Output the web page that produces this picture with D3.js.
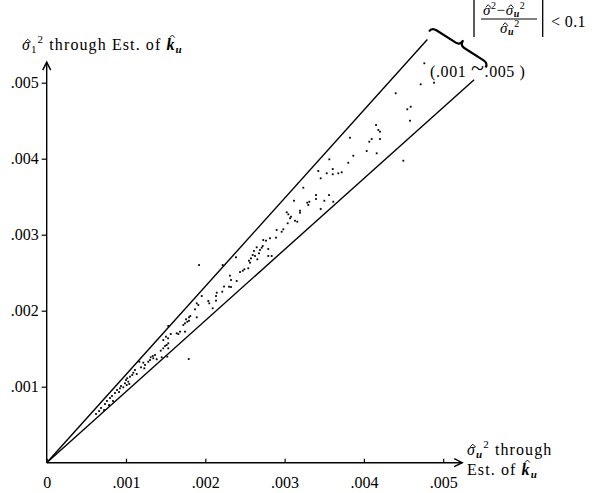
<!DOCTYPE html>
<html>
<head>
<meta charset="utf-8">
<script src="https://cdn.jsdelivr.net/npm/d3@7"></script>
<style>
  html, body { margin: 0; padding: 0; background: #fff; }
  svg { display: block; }
  text { font-family: "Liberation Serif", "Times New Roman", serif; fill: #000; }
</style>
</head>
<body>
<svg id="chart" width="600" height="493"></svg>
<script>
// ---- data (units of 0.001) ----
const xTickValues = [0, 1, 2, 3, 4, 5];
const xTickLabels = ["0", ".001", ".002", ".003", ".004", ".005"];
const yTickValues = [1, 2, 3, 4, 5];
const yTickLabels = [".001", ".002", ".003", ".004", ".005"];

// bounds of the |(s^2 - su^2)/su^2| < 0.1 cone as drawn: slope and end x
const coneSlopes = [1.16, 0.935];
const coneEndX = [4.80, 5.39];

// sigma_u^2 (x) and sigma_1^2 (y) estimates
const sigmaU = [
 0.622,0.660,0.685,0.723,0.735,0.760,0.786,0.798,0.823,0.836,0.861,0.887,0.912,0.937,
 0.924,0.966,0.987,1.009,1.042,1.029,1.000,1.016,1.050,1.079,1.135,1.092,1.113,1.189,1.231,1.240,
 1.218,1.168,1.281,1.303,1.344,1.311,1.337,1.366,1.387,1.450,1.521,1.791,1.438,1.470,1.533,1.492,
 1.513,1.533,1.470,1.530,1.504,1.564,1.639,1.660,1.681,1.744,1.533,1.723,1.744,1.773,1.794,1.757,
 1.811,1.794,1.892,1.870,2.093,1.912,1.892,2.038,2.050,2.135,1.955,2.135,2.144,2.236,2.299,2.324,
 3.564,3.866,4.035,4.161,3.803,3.425,3.531,3.607,3.607,3.677,3.720,3.455,3.236,3.396,3.396,3.560,
 3.501,3.614,3.119,3.286,3.312,3.299,3.455,3.026,3.047,3.081,3.068,3.194,3.194,3.131,3.160,3.039,
 2.984,2.963,2.900,2.892,2.816,2.765,2.731,2.724,2.711,2.690,2.677,2.648,2.614,2.627,2.598,2.576,
 2.794,2.794,2.837,2.551,2.564,2.656,2.542,2.492,2.472,2.438,2.387,2.219,1.921,2.311,2.324,2.396,
 2.214,
 4.762,4.716,4.884,4.401,4.590,4.547,4.581,4.153,4.182,4.203,3.825,4.098,4.203,4.068,4.497
];
const sigma1 = [
 0.641,0.680,0.720,0.693,0.772,0.812,0.759,0.851,0.878,0.812,0.917,0.957,0.930,1.009,
 0.979,0.992,1.045,1.022,1.036,1.066,1.088,1.111,1.132,1.154,1.167,1.184,1.220,1.255,1.242,1.286,
 1.316,1.329,1.329,1.351,1.374,1.387,1.404,1.417,1.361,1.387,1.395,1.364,1.474,1.505,1.505,1.536,
 1.549,1.571,1.614,1.637,1.658,1.693,1.703,1.693,1.724,1.724,1.800,1.812,1.834,1.855,1.868,1.887,
 1.930,1.913,1.913,2.018,2.032,2.075,2.097,2.128,2.097,2.132,2.193,2.193,2.237,2.318,2.316,2.312,
 3.992,4.039,4.101,4.071,3.947,3.838,3.808,3.864,3.795,3.808,3.821,3.742,3.618,3.522,3.470,3.522,
 3.447,3.434,3.447,3.421,3.434,3.391,3.338,3.295,3.268,3.237,3.216,3.316,3.289,3.184,3.171,3.150,
 3.071,3.039,3.062,2.961,2.953,2.921,2.930,2.851,2.829,2.799,2.755,2.834,2.786,2.720,2.733,2.689,
 2.812,2.720,2.720,2.658,2.632,2.676,2.558,2.545,2.526,2.509,2.703,2.601,2.601,2.461,2.404,2.391,
 2.250,
 5.255,4.979,5.000,4.861,4.684,4.650,4.500,4.443,4.378,4.355,4.276,4.259,4.259,4.224,3.974
];

// ---- drawing ----
const svg = d3.select("#chart");
const x = d3.scaleLinear().domain([0, 5]).range([46.7, 443.2]);
const y = d3.scaleLinear().domain([0, 5]).range([462.7, 82.7]);
const xMax = 5.24, yMax = 5.27;

// rich text helper: parts {t, it, b, fs, dy, hat}
function rich(parent, x0, y0, fs, parts, ls) {
  const t = parent.append("text").attr("x", x0).attr("y", y0).attr("font-size", fs);
  if (ls) t.attr("letter-spacing", ls);
  const hats = [];
  let idx = 0, base = y0;
  parts.forEach(p => {
    const sp = t.append("tspan").text(p.t);
    if (p.it) sp.attr("font-style", "italic");
    if (p.b) sp.attr("font-weight", "bold");
    if (p.fs) sp.attr("font-size", p.fs);
    if (p.dy) { sp.attr("dy", p.dy); base += p.dy; }
    if (p.hat) hats.push({ idx, size: p.fs || fs, base, tall: p.hat === "tall" });
    idx += p.t.length;
  });
  const node = t.node();
  hats.forEach(h => {
    const s = node.getStartPositionOfChar(h.idx).x;
    const e = node.getEndPositionOfChar(h.idx).x;
    const cx = (s + e) / 2 + h.size * 0.08;
    const top = h.base - h.size * (h.tall ? 0.78 : 0.52) - 2.5;
    const w = h.size * 0.16;
    parent.append("path")
      .attr("d", `M${cx - w},${top + 2.6} L${cx},${top} L${cx + w},${top + 2.6}`)
      .attr("fill", "none").attr("stroke", "#000").attr("stroke-width", 0.9);
  });
  return t;
}

// axes lines with open arrowheads
const axisG = svg.append("g").attr("stroke", "#000").attr("fill", "none").attr("stroke-width", 1.4);
axisG.append("line").attr("x1", x(0)).attr("y1", y(0)).attr("x2", x(xMax)).attr("y2", y(0));
axisG.append("line").attr("x1", x(0)).attr("y1", y(0)).attr("x2", x(0)).attr("y2", y(yMax));
axisG.append("path").attr("d", `M${x(xMax)-8},${y(0)-4} L${x(xMax)},${y(0)} L${x(xMax)-8},${y(0)+4}`);
axisG.append("path").attr("d", `M${x(0)-4},${y(yMax)+8} L${x(0)},${y(yMax)} L${x(0)+4},${y(yMax)+8}`);

// x axis ticks (pointing up) and labels
const xAxis = d3.axisBottom(x).tickValues(xTickValues)
  .tickFormat((d, i) => xTickLabels[i]).tickSizeInner(-4).tickSizeOuter(0).tickPadding(14);
const gx = svg.append("g").attr("transform", `translate(0,${y(0)})`).call(xAxis);
gx.select(".domain").remove();
gx.selectAll(".tick line").attr("stroke", "#000").attr("stroke-width", 1.2);
gx.selectAll(".tick text").attr("font-family", "Liberation Serif").attr("font-size", 16).attr("fill", "#000");

// y axis ticks and labels
const yAxis = d3.axisLeft(y).tickValues(yTickValues)
  .tickFormat((d, i) => yTickLabels[i]).tickSizeInner(5).tickSizeOuter(0).tickPadding(3);
const gy = svg.append("g").attr("transform", `translate(${x(0)},0)`).call(yAxis);
gy.select(".domain").remove();
gy.selectAll(".tick line").attr("stroke", "#000").attr("stroke-width", 1.2);
gy.selectAll(".tick text").attr("font-family", "Liberation Serif").attr("font-size", 16).attr("fill", "#000");

// cone lines
svg.append("g").selectAll("line").data(coneSlopes).join("line")
  .attr("x1", x(0)).attr("y1", y(0))
  .attr("x2", (s, i) => x(coneEndX[i])).attr("y2", (s, i) => y(coneEndX[i] * s))
  .attr("stroke", "#000").attr("stroke-width", 1.4);

// points
svg.append("g").selectAll("rect").data(sigmaU).join("rect")
  .attr("x", d => x(d) - 0.9).attr("y", (d, i) => y(sigma1[i]) - 0.9)
  .attr("width", 1.8).attr("height", 1.8).attr("fill", "#000");

// brace
const bx0 = 431.7, by0 = 27.3, bx1 = 488.3, by1 = 63.3;
const L = Math.hypot(bx1 - bx0, by1 - by0);
const ang = Math.atan2(by1 - by0, bx1 - bx0) * 180 / Math.PI;
svg.append("path")
  .attr("transform", `translate(${bx0},${by0}) rotate(${ang})`)
  .attr("d", `M0,5 Q0,0 6,0 L${L/2-5},0 Q${L/2},0 ${L/2},-6 Q${L/2},0 ${L/2+5},0 L${L-6},0 Q${L},0 ${L},5`)
  .attr("fill", "none").attr("stroke", "#000").attr("stroke-width", 2.2);

const txt = svg.append("g");

// y-axis title
rich(txt, 22, 50, 16, [
  { t: "σ", it: true, hat: true },
  { t: "1", fs: 11, dy: 3 },
  { t: "2", fs: 11, dy: -10 },
  { t: " through Est. of ", dy: 7 },
  { t: "k", it: true, b: true, hat: "tall" },
  { t: "u", it: true, b: true, fs: 11, dy: 3 }
], 1.1);

// x-axis title
rich(txt, 467, 455, 16, [
  { t: "σ", it: true, hat: true },
  { t: "u", it: true, b: true, fs: 11, dy: 3 },
  { t: "2", fs: 11, dy: -10 },
  { t: " through", dy: 7 }
], 1.1);
rich(txt, 467, 475, 16, [
  { t: "Est. of " },
  { t: "k", it: true, b: true, hat: "tall" },
  { t: "u", it: true, b: true, fs: 11, dy: 3 }
], 1.1);

// ratio annotation
const ann = svg.append("g");
ann.append("line").attr("x1", 474).attr("y1", 0).attr("x2", 474).attr("y2", 37).attr("stroke", "#000").attr("stroke-width", 1.3);
ann.append("line").attr("x1", 542.7).attr("y1", 0).attr("x2", 542.7).attr("y2", 37).attr("stroke", "#000").attr("stroke-width", 1.3);
ann.append("line").attr("x1", 481).attr("y1", 19).attr("x2", 537).attr("y2", 19).attr("stroke", "#000").attr("stroke-width", 1);
rich(ann, 483, 15, 15, [
  { t: "σ", it: true, hat: true },
  { t: "2", fs: 10, dy: -6 },
  { t: "−", dy: 6 },
  { t: "σ", it: true, hat: true },
  { t: "u", it: true, b: true, fs: 10, dy: 2 },
  { t: "2", fs: 10, dy: -8 }
], 0.6);
rich(ann, 500, 33, 15, [
  { t: "σ", it: true, hat: true },
  { t: "u", it: true, b: true, fs: 10, dy: 2 },
  { t: "2", fs: 10, dy: -8 }
], 0.6);
ann.append("text").attr("x", 551).attr("y", 27).attr("font-size", 16).attr("letter-spacing", 0.4).text("< 0.1");

const rng = svg.append("text").attr("x", 430).attr("y", 77).attr("font-size", 16).attr("letter-spacing", 0.6);
rng.append("tspan").text("(.001 ");
rng.append("tspan").attr("font-size", 24).attr("dy", -1).text("~");
rng.append("tspan").attr("dy", 1).text(".005 )");
</script>
</body>
</html>
